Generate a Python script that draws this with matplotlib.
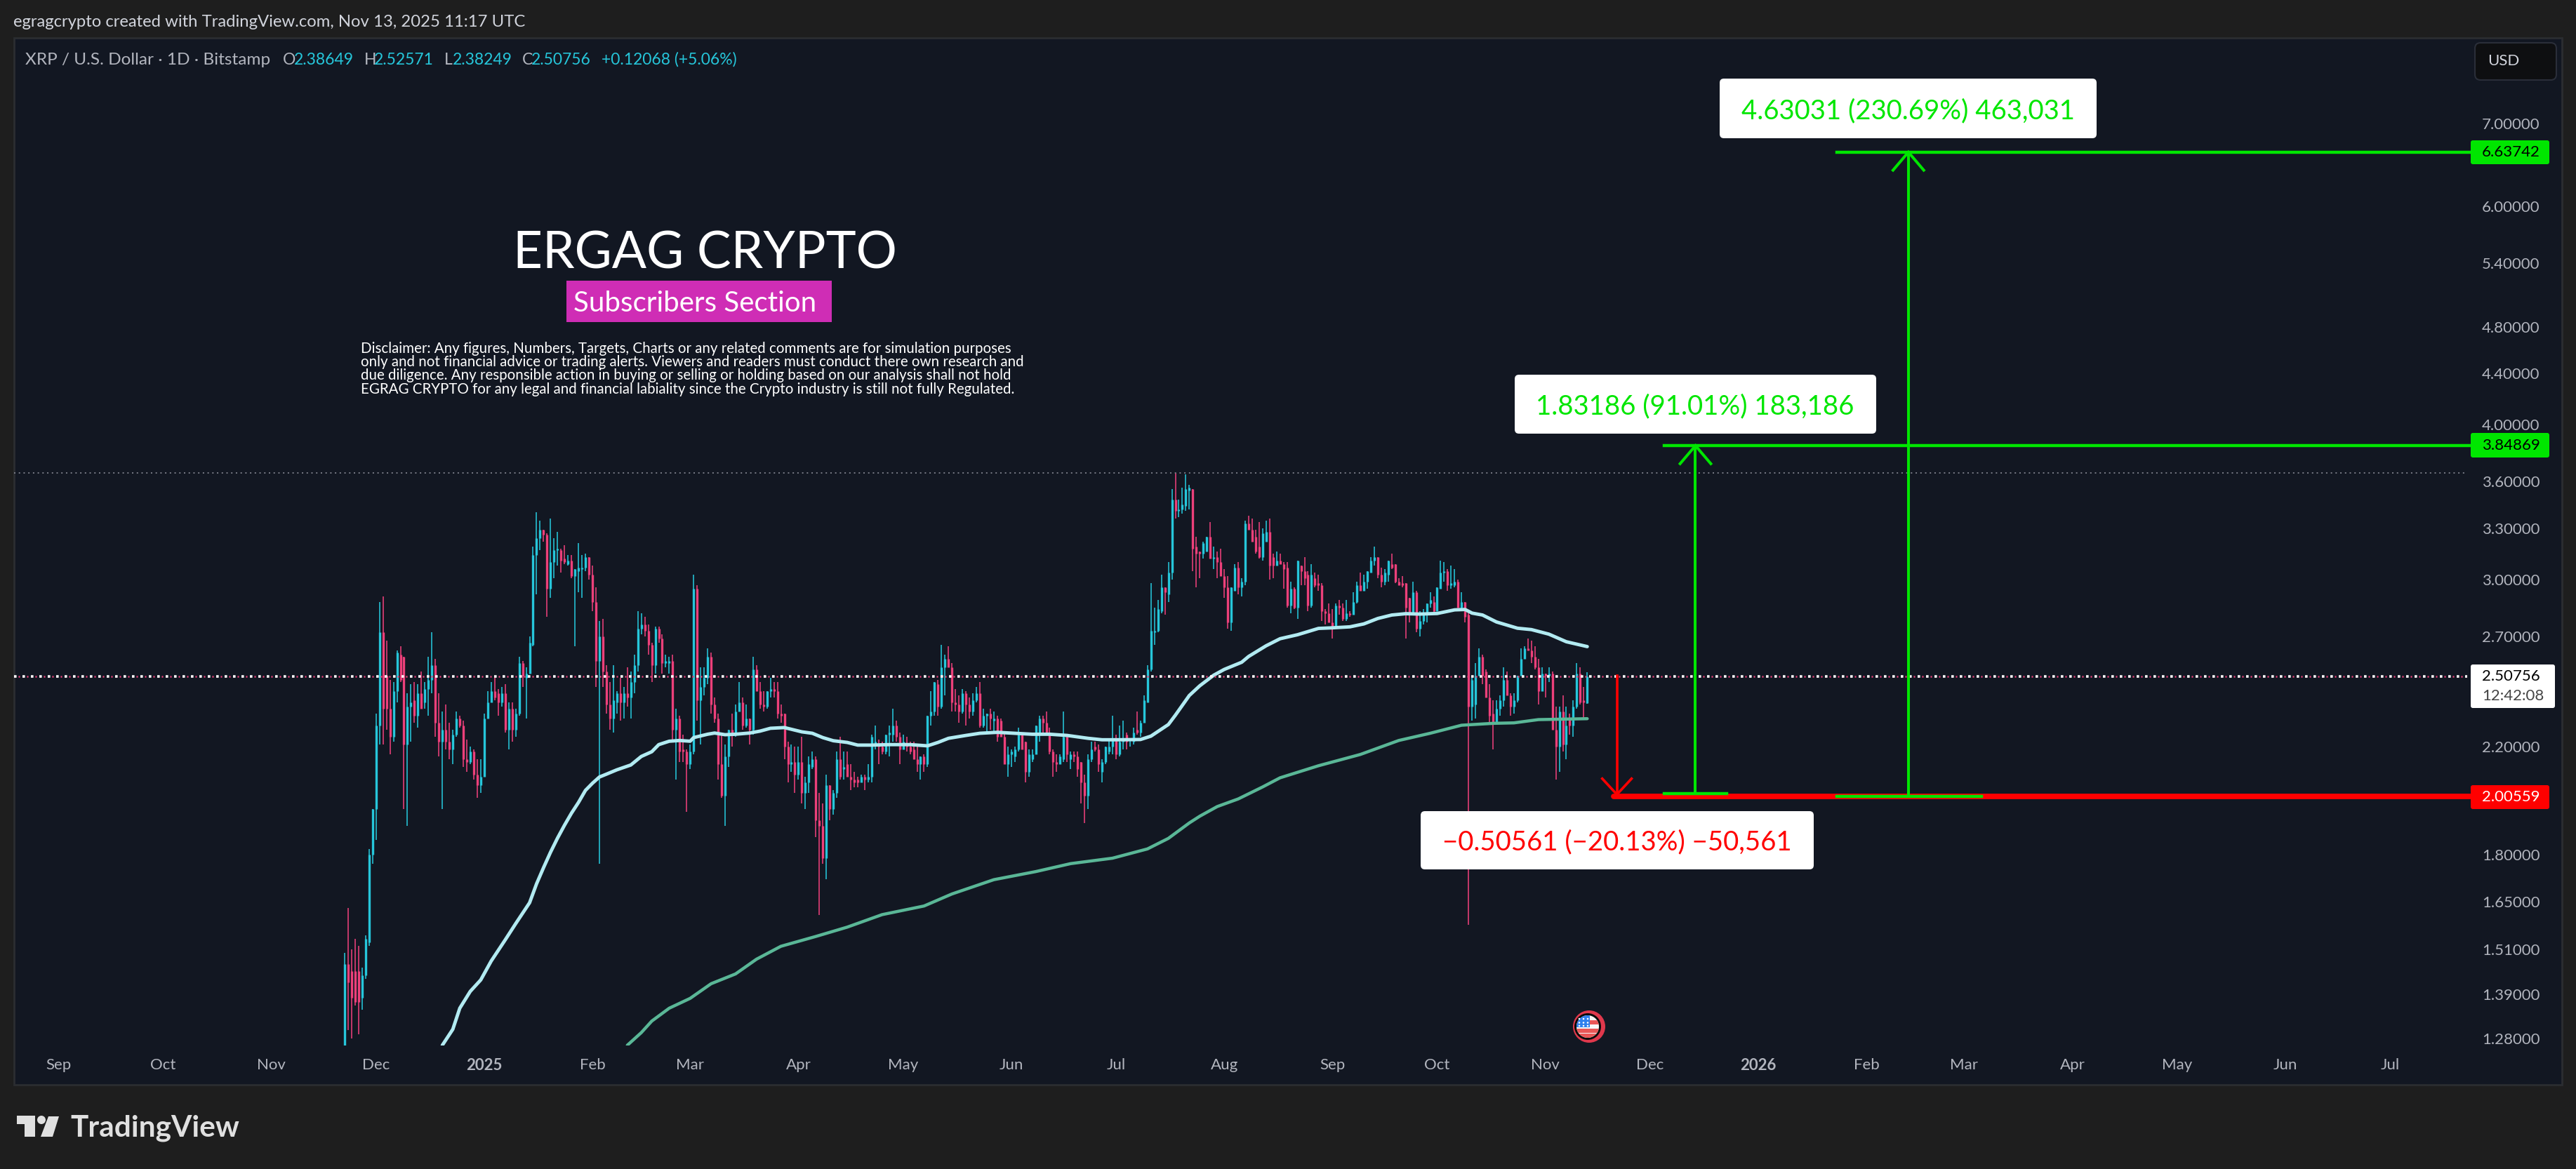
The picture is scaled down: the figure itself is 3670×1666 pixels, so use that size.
"""XRP / USD daily chart with target measurements (TradingView dark layout)."""

import matplotlib

matplotlib.use("Agg")

import matplotlib.pyplot as plt
import numpy as np
from matplotlib.patches import Circle, FancyBboxPatch, Polygon, Rectangle
from matplotlib.ticker import NullLocator
from matplotlib.transforms import Affine2D

WIDTH, HEIGHT = 3670, 1666

# ------------------------------------------------------------
# DATA - prices, one candle per day.
# Day numbers count from 2025-01-01.
# ------------------------------------------------------------
FIRST_DAY = -40

OPENS = [
    1.25, 1.47, 1.45, 1.45, 1.45, 1.38, 1.44, 1.53, 1.80, 1.96,
    2.29, 2.72, 2.51, 2.36, 2.24, 2.44, 2.61, 2.60, 2.21, 2.37,
    2.40, 2.33, 2.43, 2.39, 2.45, 2.49, 2.56, 2.30, 2.22, 2.27,
    2.22, 2.19, 2.25, 2.32, 2.29, 2.15, 2.14, 2.18, 2.09, 2.05,
    2.08, 2.32, 2.39, 2.44, 2.43, 2.39, 2.43, 2.27, 2.36, 2.27,
    2.34, 2.57, 2.50, 2.52, 2.66, 3.14, 3.24, 3.29, 3.26, 2.95,
    3.10, 3.17, 3.17, 3.12, 3.09, 3.11, 3.02, 3.05, 3.06, 3.07,
    3.13, 3.03, 2.88, 2.58, 2.70, 2.53, 2.38, 2.32, 2.39, 2.43,
    2.39, 2.43, 2.41, 2.48, 2.56, 2.74, 2.76, 2.73, 2.66, 2.56,
    2.74, 2.69, 2.57, 2.57, 2.58, 2.27, 2.32, 2.19, 2.18, 2.13,
    2.18, 2.95, 2.40, 2.46, 2.50, 2.60, 2.38, 2.32, 2.13, 2.01,
    2.16, 2.27, 2.25, 2.35, 2.39, 2.29, 2.32, 2.27, 2.54, 2.44,
    2.38, 2.37, 2.44, 2.45, 2.44, 2.34, 2.34, 2.20, 2.13, 2.14,
    2.09, 2.14, 2.02, 2.06, 2.12, 2.15, 1.92, 1.90, 1.79, 2.05,
    1.96, 2.02, 2.15, 2.11, 2.13, 2.08, 2.07, 2.07, 2.06, 2.08,
    2.07, 2.08, 2.21, 2.21, 2.20, 2.18, 2.25, 2.25, 2.29, 2.24,
    2.19, 2.21, 2.20, 2.19, 2.15, 2.13, 2.16, 2.13, 2.33, 2.35,
    2.47, 2.37, 2.55, 2.59, 2.55, 2.39, 2.38, 2.35, 2.43, 2.38,
    2.35, 2.40, 2.43, 2.29, 2.33, 2.34, 2.31, 2.32, 2.31, 2.24,
    2.13, 2.17, 2.16, 2.19, 2.25, 2.22, 2.10, 2.15, 2.17, 2.26,
    2.32, 2.30, 2.26, 2.18, 2.14, 2.13, 2.15, 2.24, 2.15, 2.17,
    2.16, 2.14, 2.06, 2.01, 2.15, 2.20, 2.19, 2.10, 2.14, 2.18,
    2.20, 2.23, 2.17, 2.22, 2.25, 2.22, 2.22, 2.27, 2.26, 2.30,
    2.39, 2.54, 2.72, 2.73, 2.83, 2.96, 2.92, 3.04, 3.48, 3.41,
    3.42, 3.44, 3.54, 3.55, 3.19, 3.16, 3.15, 3.16, 3.25, 3.12,
    3.13, 3.10, 3.02, 2.96, 2.77, 2.94, 3.07, 2.96, 2.99, 3.33,
    3.29, 3.25, 3.19, 3.13, 3.22, 3.28, 3.13, 3.08, 3.11, 3.09,
    3.07, 2.86, 2.95, 2.85, 3.08, 3.05, 3.03, 2.86, 3.01, 2.98,
    2.97, 2.83, 2.82, 2.77, 2.75, 2.86, 2.85, 2.79, 2.82, 2.81,
    2.88, 2.97, 2.94, 2.99, 3.04, 3.11, 3.13, 3.03, 2.99, 3.03,
    3.09, 3.09, 2.99, 2.98, 2.98, 2.90, 2.82, 2.93, 2.74, 2.78,
    2.81, 2.87, 2.88, 2.83, 2.95, 3.04, 3.05, 2.97, 2.97, 2.99,
    2.85, 2.88, 2.81, 2.37, 2.38, 2.51, 2.60, 2.53, 2.41, 2.34,
    2.30, 2.36, 2.40, 2.49, 2.42, 2.37, 2.40, 2.51, 2.59, 2.64,
    2.63, 2.60, 2.55, 2.44, 2.52, 2.51, 2.52, 2.27, 2.20, 2.35,
    2.21, 2.32, 2.29, 2.37, 2.52, 2.40, 2.38649,
]
HIGHS = [
    1.50, 1.63, 1.51, 1.54, 1.52, 1.46, 1.55, 1.82, 1.96, 2.34,
    2.88, 2.91, 2.68, 2.49, 2.48, 2.63, 2.65, 2.60, 2.43, 2.47,
    2.48, 2.47, 2.53, 2.48, 2.60, 2.72, 2.59, 2.43, 2.35, 2.38,
    2.30, 2.27, 2.35, 2.33, 2.31, 2.23, 2.20, 2.19, 2.15, 2.15,
    2.34, 2.44, 2.48, 2.51, 2.45, 2.46, 2.47, 2.39, 2.39, 2.36,
    2.60, 2.58, 2.55, 2.70, 3.19, 3.40, 3.35, 3.29, 3.27, 3.36,
    3.24, 3.28, 3.18, 3.20, 3.14, 3.14, 3.06, 3.21, 3.14, 3.15,
    3.13, 3.08, 2.96, 2.78, 2.79, 2.56, 2.48, 2.56, 2.44, 2.50,
    2.46, 2.55, 2.53, 2.61, 2.83, 2.82, 2.80, 2.76, 2.67, 2.75,
    2.75, 2.71, 2.61, 2.60, 2.61, 2.36, 2.33, 2.25, 2.19, 2.21,
    3.03, 2.97, 2.55, 2.55, 2.64, 2.62, 2.41, 2.34, 2.25, 2.21,
    2.27, 2.34, 2.38, 2.48, 2.41, 2.38, 2.32, 2.60, 2.56, 2.48,
    2.44, 2.44, 2.50, 2.48, 2.48, 2.38, 2.34, 2.22, 2.21, 2.20,
    2.20, 2.24, 2.08, 2.16, 2.18, 2.16, 2.02, 1.98, 2.09, 2.05,
    2.03, 2.18, 2.24, 2.18, 2.18, 2.13, 2.10, 2.08, 2.09, 2.09,
    2.13, 2.25, 2.29, 2.23, 2.22, 2.25, 2.29, 2.36, 2.31, 2.26,
    2.25, 2.24, 2.22, 2.22, 2.20, 2.16, 2.17, 2.33, 2.44, 2.48,
    2.49, 2.66, 2.61, 2.65, 2.57, 2.45, 2.42, 2.45, 2.44, 2.41,
    2.43, 2.46, 2.48, 2.36, 2.34, 2.36, 2.35, 2.33, 2.32, 2.26,
    2.20, 2.19, 2.20, 2.28, 2.26, 2.22, 2.19, 2.19, 2.29, 2.33,
    2.33, 2.35, 2.28, 2.19, 2.17, 2.17, 2.35, 2.25, 2.18, 2.18,
    2.18, 2.14, 2.09, 2.17, 2.22, 2.22, 2.21, 2.15, 2.20, 2.23,
    2.33, 2.25, 2.29, 2.31, 2.26, 2.23, 2.28, 2.35, 2.31, 2.42,
    2.56, 2.98, 2.85, 2.89, 3.03, 2.96, 3.10, 3.55, 3.66, 3.48,
    3.56, 3.65, 3.58, 3.55, 3.25, 3.16, 3.22, 3.25, 3.34, 3.19,
    3.16, 3.18, 3.06, 3.02, 2.96, 3.09, 3.10, 3.01, 3.35, 3.38,
    3.36, 3.29, 3.34, 3.30, 3.35, 3.36, 3.15, 3.16, 3.15, 3.10,
    3.10, 2.99, 2.96, 3.11, 3.08, 3.13, 3.05, 3.09, 3.04, 3.03,
    2.98, 2.84, 2.87, 2.84, 2.87, 2.89, 2.87, 2.89, 2.83, 2.93,
    2.99, 3.04, 3.03, 3.05, 3.13, 3.19, 3.13, 3.07, 3.06, 3.11,
    3.15, 3.09, 3.01, 3.02, 2.98, 2.90, 2.99, 2.94, 2.83, 2.84,
    2.87, 2.93, 2.91, 2.96, 3.11, 3.10, 3.06, 3.08, 3.06, 3.00,
    2.93, 2.88, 2.83, 2.51, 2.57, 2.64, 2.61, 2.54, 2.47, 2.40,
    2.40, 2.42, 2.55, 2.53, 2.43, 2.43, 2.51, 2.64, 2.65, 2.69,
    2.68, 2.65, 2.59, 2.55, 2.52, 2.55, 2.53, 2.37, 2.37, 2.42,
    2.37, 2.34, 2.40, 2.57, 2.55, 2.46, 2.52571,
]
LOWS = [
    1.22, 1.30, 1.28, 1.36, 1.29, 1.35, 1.43, 1.52, 1.77, 1.85,
    2.21, 2.21, 2.27, 2.17, 2.22, 2.39, 2.48, 1.96, 1.90, 2.22,
    2.30, 2.28, 2.36, 2.36, 2.33, 2.43, 2.24, 2.16, 1.96, 2.19,
    2.15, 2.13, 2.24, 2.28, 2.12, 2.10, 2.13, 2.07, 2.00, 2.02,
    2.08, 2.32, 2.39, 2.40, 2.33, 2.37, 2.26, 2.19, 2.22, 2.24,
    2.33, 2.46, 2.32, 2.52, 2.65, 2.92, 3.17, 3.22, 2.80, 2.90,
    3.01, 3.08, 3.04, 3.09, 3.08, 3.01, 2.65, 2.93, 2.90, 3.05,
    3.00, 2.83, 2.46, 1.77, 2.46, 2.34, 2.27, 2.26, 2.34, 2.31,
    2.32, 2.37, 2.32, 2.43, 2.53, 2.71, 2.70, 2.61, 2.48, 2.52,
    2.67, 2.52, 2.55, 2.52, 2.23, 2.07, 2.14, 2.14, 1.95, 2.11,
    2.17, 2.31, 2.21, 2.42, 2.47, 2.34, 2.30, 2.07, 2.00, 1.90,
    2.12, 2.20, 2.24, 2.35, 2.27, 2.28, 2.21, 2.25, 2.44, 2.36,
    2.35, 2.36, 2.41, 2.41, 2.32, 2.30, 2.15, 2.06, 2.10, 2.02,
    2.07, 1.98, 1.96, 2.02, 2.11, 1.86, 1.61, 1.77, 1.72, 1.92,
    1.94, 2.00, 2.07, 2.07, 2.08, 2.03, 2.04, 2.04, 2.06, 2.03,
    2.06, 2.06, 2.19, 2.13, 2.17, 2.17, 2.16, 2.22, 2.22, 2.13,
    2.19, 2.18, 2.17, 2.15, 2.10, 2.07, 2.10, 2.12, 2.29, 2.33,
    2.33, 2.36, 2.42, 2.55, 2.35, 2.35, 2.30, 2.34, 2.29, 2.32,
    2.33, 2.39, 2.28, 2.28, 2.26, 2.27, 2.26, 2.22, 2.24, 2.13,
    2.08, 2.12, 2.14, 2.18, 2.19, 2.06, 2.08, 2.14, 2.17, 2.22,
    2.25, 2.25, 2.17, 2.08, 2.10, 2.13, 2.14, 2.14, 2.11, 2.14,
    2.08, 1.98, 1.91, 1.96, 2.14, 2.18, 2.10, 2.06, 2.13, 2.17,
    2.17, 2.15, 2.16, 2.19, 2.19, 2.20, 2.21, 2.25, 2.24, 2.30,
    2.39, 2.53, 2.66, 2.72, 2.82, 2.81, 2.88, 3.00, 3.36, 3.37,
    3.39, 3.41, 3.42, 3.05, 2.96, 3.01, 3.12, 3.16, 3.12, 3.06,
    3.01, 3.02, 2.90, 2.74, 2.73, 2.94, 2.92, 2.91, 2.97, 3.29,
    3.22, 3.15, 3.12, 3.11, 3.22, 3.00, 3.01, 3.08, 3.09, 2.95,
    2.85, 2.82, 2.84, 2.79, 2.97, 2.97, 2.83, 2.85, 2.96, 2.94,
    2.78, 2.76, 2.77, 2.69, 2.74, 2.81, 2.78, 2.78, 2.80, 2.81,
    2.87, 2.94, 2.94, 2.95, 3.04, 3.08, 3.01, 2.96, 2.97, 2.99,
    3.06, 2.98, 2.97, 2.96, 2.69, 2.77, 2.81, 2.72, 2.70, 2.76,
    2.77, 2.85, 2.82, 2.83, 2.95, 2.99, 2.94, 2.95, 2.96, 2.85,
    2.84, 2.77, 1.58, 2.31, 2.32, 2.51, 2.47, 2.41, 2.30, 2.19,
    2.30, 2.33, 2.37, 2.42, 2.33, 2.34, 2.39, 2.51, 2.59, 2.63,
    2.57, 2.54, 2.38, 2.44, 2.41, 2.48, 2.27, 2.07, 2.10, 2.18,
    2.15, 2.25, 2.24, 2.36, 2.38, 2.32, 2.38249,
]
CLOSES = [
    1.47, 1.42, 1.38, 1.37, 1.37, 1.44, 1.54, 1.80, 1.96, 2.29,
    2.72, 2.36, 2.36, 2.24, 2.44, 2.62, 2.49, 2.21, 2.37, 2.39,
    2.33, 2.43, 2.36, 2.45, 2.49, 2.56, 2.30, 2.22, 2.27, 2.22,
    2.19, 2.25, 2.32, 2.29, 2.15, 2.14, 2.18, 2.09, 2.05, 2.08,
    2.32, 2.39, 2.44, 2.41, 2.39, 2.43, 2.27, 2.36, 2.27, 2.34,
    2.57, 2.51, 2.52, 2.67, 3.14, 3.24, 3.29, 3.26, 2.95, 3.10,
    3.17, 3.18, 3.11, 3.10, 3.11, 3.02, 3.06, 3.07, 3.07, 3.13,
    3.03, 2.88, 2.58, 2.70, 2.53, 2.38, 2.32, 2.40, 2.43, 2.39,
    2.43, 2.41, 2.48, 2.56, 2.74, 2.76, 2.73, 2.66, 2.56, 2.74,
    2.69, 2.57, 2.58, 2.58, 2.27, 2.32, 2.18, 2.18, 2.13, 2.18,
    2.95, 2.40, 2.46, 2.50, 2.60, 2.38, 2.32, 2.13, 2.01, 2.16,
    2.27, 2.25, 2.35, 2.39, 2.29, 2.32, 2.27, 2.54, 2.44, 2.38,
    2.37, 2.44, 2.45, 2.44, 2.34, 2.33, 2.20, 2.13, 2.14, 2.09,
    2.14, 2.02, 2.06, 2.13, 2.15, 1.92, 1.90, 1.79, 2.05, 1.96,
    2.02, 2.15, 2.08, 2.12, 2.08, 2.07, 2.06, 2.06, 2.08, 2.07,
    2.08, 2.24, 2.22, 2.20, 2.18, 2.25, 2.26, 2.29, 2.24, 2.19,
    2.22, 2.20, 2.18, 2.15, 2.13, 2.16, 2.13, 2.33, 2.35, 2.48,
    2.37, 2.55, 2.59, 2.55, 2.39, 2.38, 2.35, 2.43, 2.38, 2.35,
    2.40, 2.43, 2.29, 2.33, 2.34, 2.32, 2.32, 2.24, 2.24, 2.13,
    2.17, 2.18, 2.19, 2.25, 2.19, 2.10, 2.17, 2.17, 2.29, 2.32,
    2.30, 2.26, 2.18, 2.14, 2.13, 2.16, 2.24, 2.17, 2.17, 2.16,
    2.11, 2.06, 2.01, 2.15, 2.19, 2.19, 2.13, 2.14, 2.20, 2.20,
    2.23, 2.17, 2.22, 2.23, 2.22, 2.22, 2.26, 2.26, 2.30, 2.40,
    2.54, 2.73, 2.73, 2.84, 2.96, 2.93, 3.04, 3.48, 3.41, 3.42,
    3.45, 3.55, 3.56, 3.18, 3.15, 3.15, 3.21, 3.25, 3.12, 3.13,
    3.10, 3.02, 2.96, 2.77, 2.96, 3.07, 2.96, 2.99, 3.33, 3.29,
    3.22, 3.16, 3.13, 3.27, 3.28, 3.08, 3.08, 3.11, 3.09, 3.06,
    2.86, 2.95, 2.85, 3.11, 3.05, 3.01, 2.86, 3.03, 2.97, 2.97,
    2.83, 2.82, 2.77, 2.75, 2.86, 2.85, 2.79, 2.82, 2.81, 2.88,
    2.97, 2.94, 2.99, 3.05, 3.11, 3.13, 3.03, 2.99, 3.04, 3.11,
    3.07, 2.99, 2.97, 2.97, 2.85, 2.82, 2.93, 2.74, 2.78, 2.81,
    2.87, 2.89, 2.83, 2.96, 3.04, 3.05, 2.97, 2.98, 2.99, 2.85,
    2.88, 2.80, 2.37, 2.49, 2.51, 2.60, 2.51, 2.41, 2.33, 2.30,
    2.36, 2.40, 2.49, 2.42, 2.37, 2.40, 2.51, 2.59, 2.64, 2.63,
    2.60, 2.55, 2.44, 2.52, 2.51, 2.52, 2.27, 2.20, 2.35, 2.21,
    2.29, 2.29, 2.37, 2.52, 2.39, 2.39, 2.50756,
]

# Moving averages, read at the bends of each curve.
FAST_MA_DAYS = [
    -12, -9, -7, -4, -1, 2, 6, 9, 13, 15, 17, 19, 21, 23, 25, 27, 29, 31, 33, 35, 38, 42, 45,
    48, 50, 53, 56, 59, 60, 64, 66, 69, 72, 76, 79, 82, 86, 91, 94, 97, 100, 104, 107, 111,
    116, 122, 127, 130, 133, 138, 142, 147, 152, 157, 162, 167, 173, 177, 182, 188, 191, 196,
    198, 202, 205, 209, 212, 217, 219, 224, 228, 233, 239, 243, 248, 252, 256, 260, 264, 268,
    273, 278, 281, 283, 286, 290, 296, 300, 305, 310, 316,
]
FAST_MA = [
    1.264, 1.302, 1.354, 1.397, 1.427, 1.478, 1.537, 1.584, 1.647, 1.706, 1.758, 1.809, 1.857,
    1.902, 1.945, 1.984, 2.029, 2.056, 2.080, 2.091, 2.108, 2.127, 2.161, 2.180, 2.209, 2.223,
    2.226, 2.223, 2.238, 2.252, 2.257, 2.250, 2.252, 2.257, 2.265, 2.277, 2.280, 2.262, 2.256,
    2.238, 2.225, 2.218, 2.207, 2.207, 2.209, 2.209, 2.204, 2.218, 2.235, 2.247, 2.256, 2.260,
    2.256, 2.252, 2.252, 2.247, 2.235, 2.229, 2.229, 2.230, 2.244, 2.293, 2.333, 2.420, 2.464,
    2.513, 2.540, 2.574, 2.602, 2.654, 2.689, 2.709, 2.741, 2.744, 2.749, 2.764, 2.792, 2.810,
    2.817, 2.815, 2.818, 2.837, 2.839, 2.820, 2.810, 2.774, 2.742, 2.735, 2.712, 2.674, 2.650,
]
SLOW_MA_DAYS = [
    41, 45, 48, 53, 59, 65, 72, 78, 85, 95, 104, 114, 126, 134, 146, 158, 168, 180, 190, 196,
    202, 205, 210, 216, 223, 228, 239, 251, 262, 271, 280, 289, 295, 302, 316,
]
SLOW_MA = [
    1.264, 1.294, 1.322, 1.354, 1.379, 1.417, 1.443, 1.483, 1.519, 1.547, 1.574, 1.611, 1.637,
    1.674, 1.719, 1.745, 1.771, 1.789, 1.820, 1.856, 1.910, 1.934, 1.969, 1.997, 2.042, 2.077,
    2.124, 2.169, 2.226, 2.256, 2.290, 2.298, 2.300, 2.314, 2.318,
]

# Price and time scales.
PRICE_TICKS = [7.0, 6.0, 5.4, 4.8, 4.4, 4.0, 3.6, 3.3, 3.0, 2.7, 2.2, 1.8, 1.65, 1.51, 1.39, 1.28]
MONTH_DAYS = [-122, -92, -61, -31, 0, 31, 59, 90, 120, 151, 181, 212, 243, 273, 304, 334, 365,
              396, 424, 455, 485, 516, 546]
MONTH_LABELS = ["Sep", "Oct", "Nov", "Dec", "2025", "Feb", "Mar", "Apr", "May", "Jun", "Jul", "Aug",
                "Sep", "Oct", "Nov", "Dec", "2026", "Feb", "Mar", "Apr", "May", "Jun", "Jul"]

# Levels of the drawn projection.
LAST_CLOSE = 2.50756
PREV_HIGH = 3.66
TARGET_HIGH = 6.63742
TARGET_MID = 3.84869
TARGET_LOW = 2.00559
MOVE_HIGH_BASE = 2.00711
MOVE_MID_BASE = 2.01683
MOVE_DOWN_START = 2.5112

# Colours.
OUTER_BG = "#1e1e1e"
PANEL_BG = "#121722"
PANEL_EDGE = "#2b2d31"
UP_COLOR = "#26c6da"
DOWN_COLOR = "#ec407a"
FAST_COLOR = "#b2ebf2"
SLOW_COLOR = "#5ab797"
TEXT_GREY = "#b2b5be"
LIME = "#00e600"
RED = "#ff0000"

plt.rcParams["font.family"] = ["Lato", "DejaVu Sans"]
plt.rcParams["lines.scale_dashes"] = False  # dash patterns below are in points.

fig = plt.figure(figsize=(WIDTH / 100, HEIGHT / 100), dpi=100, facecolor=OUTER_BG)

# Pixel space of the finished picture, origin at the top left, for page furniture.
PX = Affine2D().scale(1 / WIDTH, -1 / HEIGHT).translate(0, 1) + fig.transFigure


def px_text(x, y, s, size, color, **kwargs):
    kwargs.setdefault("va", "center")
    return fig.text(x, y, s, transform=PX, fontsize=size, color=color, zorder=10, **kwargs)


def px_box(x0, y0, x1, y1, color, rounding=6, edge="none", zorder=8):
    box = FancyBboxPatch((x0, y0), x1 - x0, y1 - y0, boxstyle=f"round,pad=0,rounding_size={rounding}",
                         facecolor=color, edgecolor=edge, linewidth=1.5, transform=PX, zorder=zorder)
    fig.add_artist(box)
    return box


# Panel behind the chart and the price and time scales.
fig.add_artist(Rectangle((20, 54), 3630, 1492, facecolor=PANEL_BG, edgecolor=PANEL_EDGE, linewidth=2,
                         transform=PX, zorder=-5))

ax = fig.add_axes([20 / WIDTH, (HEIGHT - 1490) / HEIGHT, 3500 / WIDTH, 1436 / HEIGHT])
ax.patch.set_alpha(0)
ax.set_yscale("log")
ax.set_xlim(-134.7, 569.1)
ax.set_ylim(1.2634, 8.206)
for spine in ax.spines.values():
    spine.set_visible(False)

# Candles.
opens = np.array(OPENS)
highs = np.array(HIGHS)
lows = np.array(LOWS)
closes = np.array(CLOSES)
days = FIRST_DAY + np.arange(len(opens))
colors = np.where(closes >= opens, UP_COLOR, DOWN_COLOR)
ax.vlines(days, lows, highs, colors=list(colors), linewidth=1.15, capstyle="butt", zorder=2)
ax.vlines(days, np.minimum(opens, closes), np.maximum(opens, closes), colors=list(colors),
          linewidth=2.4, capstyle="butt", zorder=3)

# Moving averages.
ax.plot(SLOW_MA_DAYS, SLOW_MA, color=SLOW_COLOR, linewidth=3.2, solid_capstyle="round", zorder=4)
ax.plot(FAST_MA_DAYS, FAST_MA, color=FAST_COLOR, linewidth=3.5, solid_capstyle="round", zorder=4)

# Dotted reference lines: the old high and the last price.
ax.axhline(PREV_HIGH, xmax=0.9986, color="#787b86", linewidth=1.4, linestyle=(0, (1.44, 3.4)), zorder=5)
ax.axhline(LAST_CLOSE, xmax=0.9986, color=DOWN_COLOR, linewidth=1.8, linestyle=(0, (1.44, 2.88)), zorder=5)
ax.axhline(LAST_CLOSE, xmax=0.9986, color="white", linewidth=2.6, linestyle=(0, (2.6, 6.04)), zorder=6)

# Projection lines and arrows.
x_end = ax.get_xlim()[1]
ax.plot([323.5, x_end], [TARGET_LOW, TARGET_LOW], color=RED, linewidth=5.6, solid_capstyle="round", zorder=6)
ax.plot([324.5, 324.5], [MOVE_DOWN_START, TARGET_LOW], color=RED, linewidth=2.6, zorder=6)
ax.plot([320.3, 324.5, 328.7], [TARGET_LOW * 1.034, TARGET_LOW * 1.004, TARGET_LOW * 1.034], color=RED,
        linewidth=2.6, solid_joinstyle="miter", zorder=6)

ax.plot([338, x_end], [TARGET_MID, TARGET_MID], color=LIME, linewidth=3.2, zorder=7)
ax.plot([338, 356], [MOVE_MID_BASE, MOVE_MID_BASE], color=LIME, linewidth=3.2, zorder=7)
ax.plot([347, 347], [MOVE_MID_BASE, TARGET_MID], color=LIME, linewidth=2.9, zorder=7)
ax.plot([342.6, 347, 351.4], [TARGET_MID * 0.967, TARGET_MID, TARGET_MID * 0.967], color=LIME,
        linewidth=2.9, solid_joinstyle="miter", zorder=7)

ax.plot([387.5, x_end], [TARGET_HIGH, TARGET_HIGH], color=LIME, linewidth=3.2, zorder=7)
ax.plot([387.5, 429], [MOVE_HIGH_BASE, MOVE_HIGH_BASE], color=LIME, linewidth=3.2, zorder=7)
ax.plot([408, 408], [MOVE_HIGH_BASE, TARGET_HIGH], color=LIME, linewidth=2.9, zorder=7)
ax.plot([403.6, 408, 412.4], [TARGET_HIGH * 0.967, TARGET_HIGH, TARGET_HIGH * 0.967], color=LIME,
        linewidth=2.9, solid_joinstyle="miter", zorder=7)

# Scales.
ax.yaxis.tick_right()
ax.yaxis.set_minor_locator(NullLocator())
ax.set_yticks(PRICE_TICKS)
ax.set_yticklabels([f"{p:.5f}" for p in PRICE_TICKS], fontsize=16, color=TEXT_GREY)
ax.set_xticks(MONTH_DAYS)
ax.set_xticklabels(MONTH_LABELS, fontsize=16, color=TEXT_GREY)
ax.tick_params(axis="y", which="both", length=0, pad=11.5)
ax.tick_params(axis="x", length=0, pad=13)
for label in ax.get_xticklabels():
    if label.get_text() in ("2025", "2026"):
        label.set_fontweight("bold")

# Header and legend line.
px_text(19, 32, "egragcrypto created with TradingView.com, Nov 13, 2025 11:17 UTC", 17.2, "#d1d4dc")
px_text(36, 85, "XRP / U.S. Dollar · 1D · Bitstamp", 17.6, TEXT_GREY)
for x, s, color in [(403, "O", TEXT_GREY), (419, "2.38649", UP_COLOR), (519, "H", TEXT_GREY),
                    (533, "2.52571", UP_COLOR), (633, "L", TEXT_GREY), (645, "2.38249", UP_COLOR),
                    (744, "C", TEXT_GREY), (757, "2.50756", UP_COLOR), (857, "+0.12068 (+5.06%)", UP_COLOR)]:
    px_text(x, 85, s, 16.5, color)

# Watermark block.
px_text(1004, 362, "ERGAG CRYPTO", 52.5, "white", ha="center")
fig.add_artist(Rectangle((807, 400), 378, 59, facecolor="#cf2db5", transform=PX, zorder=8))
px_text(990, 433, "Subscribers Section", 29, "white", ha="center")
for y, line in [
    (497, "Disclaimer: Any figures, Numbers, Targets, Charts or any related comments are for simulation purposes"),
    (516, "only and not financial advice or trading alerts. Viewers and readers must conduct there own research and"),
    (535, "due diligence. Any responsible action in buying or selling or holding based on our analysis shall not hold"),
    (555, "EGRAG CRYPTO for any legal and financial labiality since the Crypto industry is still not fully Regulated."),
]:
    px_text(514, y, line, 14.8, "white")

# Measurement labels.
px_box(2450, 112, 2987, 197, "white")
px_text(2718, 158, "4.63031 (230.69%) 463,031", 27.6, LIME, ha="center")
px_box(2158, 534, 2673, 618, "white")
px_text(2415, 579, "1.83186 (91.01%) 183,186", 27.6, LIME, ha="center")
px_box(2024, 1156, 2584, 1239, "white")
px_text(2304, 1200, "−0.50561 (−20.13%) −50,561", 27.6, RED, ha="center")

# Tags on the price scale.
px_box(3520, 200, 3632, 234, LIME, rounding=3)
px_text(3536, 217, "6.63742", 16, "black")
px_box(3520, 617, 3632, 652, LIME, rounding=3)
px_text(3536, 635, "3.84869", 16, "black")
px_box(3520, 947, 3640, 1009, "white", rounding=3)
px_text(3536, 964, "2.50756", 16, "black")
px_text(3536, 992, "12:42:08", 16, "#444444")
px_box(3520, 1119, 3632, 1153, RED, rounding=3)
px_text(3536, 1136, "2.00559", 16, "white")
px_box(3526, 61, 3642, 114, "#0e0f11", rounding=8, edge="#2a2e39")
px_text(3544, 87, "USD", 16, "#d1d4dc")

# Economic event badge with the US flag.
fig.add_artist(Circle((2264, 1463), 23, facecolor="#e0384c", edgecolor="none", transform=PX, zorder=8))
fig.add_artist(Circle((2262, 1463), 19, facecolor="#0b0b0b", edgecolor="none", transform=PX, zorder=8))
flag_clip = Circle((2262, 1463), 16, transform=PX)
stripes = [Rectangle((2240, 1447), 44, 32, facecolor="#f7f7f7", transform=PX, zorder=9)]
for y in (1454, 1466.5, 1473):
    stripes.append(Rectangle((2240, y), 44, 6, facecolor="#eb5757", transform=PX, zorder=9))
stripes.append(Rectangle((2240, 1447), 25, 17, facecolor="#2f80ed", transform=PX, zorder=9))
for artist in stripes:
    fig.add_artist(artist)
    artist.set_clip_path(flag_clip)
for x in (2250, 2256, 2262):
    for y in (1452, 1457.5, 1462):
        fig.add_artist(Circle((x, y), 1.3, facecolor="white", transform=PX, zorder=9.5))

# TradingView logo.
LOGO_COLOR = "#e0e0e0"
fig.add_artist(Polygon([(24, 1590), (50, 1590), (50, 1620), (35, 1620), (35, 1602), (24, 1602)],
                       facecolor=LOGO_COLOR, transform=PX))
fig.add_artist(Circle((59, 1596), 6, facecolor=LOGO_COLOR, transform=PX))
fig.add_artist(Polygon([(69, 1591), (84, 1591), (75, 1620), (58, 1620)], facecolor=LOGO_COLOR, transform=PX))
px_text(100, 1608, "TradingView", 30.5, LOGO_COLOR, fontweight="bold")

fig.savefig("out.png", dpi=100, facecolor=OUTER_BG)
plt.close(fig)
